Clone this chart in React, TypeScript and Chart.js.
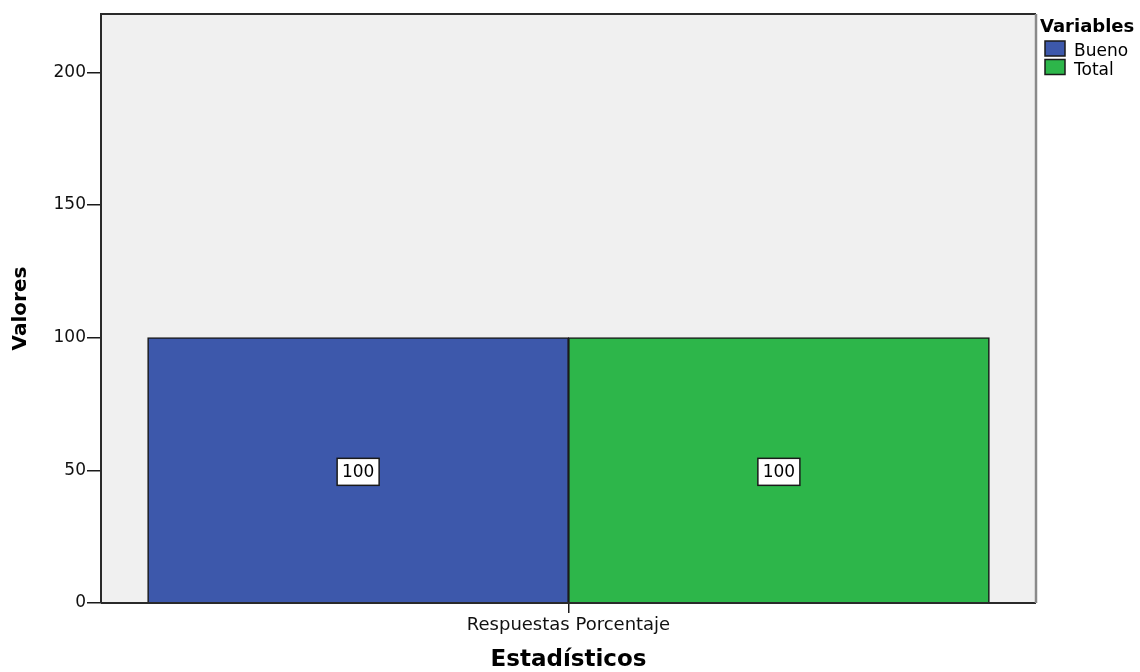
import React, { useEffect, useRef } from "react";
import { Chart, registerables } from "chart.js";

Chart.register(...registerables);

const categories = ["Respuestas Porcentaje"];
const seriesNames = ["Bueno", "Total"];
const buenoValues = [100];
const totalValues = [100];
const yTickValues = [0, 50, 100, 150, 200];
const yMax = 222;
const seriesColors = ["#3D58AB", "#2DB64A"];
const legendTitle = "Variables";
const xTitle = "Estadísticos";
const yTitle = "Valores";

const FONT = "'DejaVu Sans', 'Liberation Sans', sans-serif";

const framePlugin = {
  id: "frameAndLegend",
  beforeDraw(chart: any) {
    const { ctx, chartArea: a } = chart;
    ctx.save();
    ctx.fillStyle = "#F0F0F0";
    ctx.fillRect(a.left, a.top, a.right - a.left, a.bottom - a.top);
    ctx.restore();
  },
  afterDatasetsDraw(chart: any) {
    const { ctx } = chart;
    const yScale = chart.scales.y;
    ctx.save();
    chart.data.datasets.forEach((ds: any, di: number) => {
      const meta = chart.getDatasetMeta(di);
      meta.data.forEach((bar: any, i: number) => {
        const v = ds.data[i];
        const cx = bar.x;
        const cy = yScale.getPixelForValue(v / 2) + 1.5;
        const w = 42;
        const h = 27;
        ctx.fillStyle = "#FFFFFF";
        ctx.fillRect(cx - w / 2, cy - h / 2, w, h);
        ctx.strokeStyle = "#1A1A1A";
        ctx.lineWidth = 1.5;
        ctx.strokeRect(cx - w / 2, cy - h / 2, w, h);
        ctx.fillStyle = "#000000";
        ctx.font = `17px ${FONT}`;
        ctx.textAlign = "center";
        ctx.textBaseline = "middle";
        ctx.fillText(String(v), cx, cy + 1);
      });
    });
    ctx.restore();
  },
  afterDraw(chart: any) {
    const { ctx, chartArea: a } = chart;
    ctx.save();
    // frame
    ctx.lineWidth = 2;
    ctx.strokeStyle = "#2A2A2A";
    ctx.beginPath();
    ctx.moveTo(a.left, a.bottom);
    ctx.lineTo(a.left, a.top);
    ctx.lineTo(a.right, a.top);
    ctx.moveTo(a.left, a.bottom);
    ctx.lineTo(a.right, a.bottom);
    ctx.stroke();
    ctx.strokeStyle = "#8A8A8A";
    ctx.lineWidth = 2.5;
    ctx.beginPath();
    ctx.moveTo(a.right, a.top);
    ctx.lineTo(a.right, a.bottom);
    ctx.stroke();

    // legend
    const lx = a.right + 4;
    ctx.fillStyle = "#000000";
    ctx.font = `bold 18px ${FONT}`;
    ctx.textAlign = "left";
    ctx.textBaseline = "alphabetic";
    ctx.fillText(legendTitle, lx, 32);
    chart.data.datasets.forEach((ds: any, i: number) => {
      const top = 41 + i * 18.5;
      ctx.fillStyle = ds.backgroundColor;
      ctx.fillRect(lx + 5, top, 20, 15);
      ctx.strokeStyle = "#1A1A1A";
      ctx.lineWidth = 1.5;
      ctx.strokeRect(lx + 5, top, 20, 15);
      ctx.fillStyle = "#000000";
      ctx.font = `17px ${FONT}`;
      ctx.fillText(ds.label, lx + 34, top + 15);
    });
    ctx.restore();
  },
};

export default function App() {
  const canvasRef = useRef<HTMLCanvasElement | null>(null);

  useEffect(() => {
    if (!canvasRef.current) return;
    const chart = new Chart(canvasRef.current, {
      type: "bar",
      data: {
        labels: categories,
        datasets: [
          {
            label: seriesNames[0],
            data: buenoValues,
            backgroundColor: seriesColors[0],
            borderColor: "#1A1A1A",
            borderWidth: 1.6,
            inflateAmount: 0.5,
          },
          {
            label: seriesNames[1],
            data: totalValues,
            backgroundColor: seriesColors[1],
            borderColor: "#1A1A1A",
            borderWidth: 1.6,
            inflateAmount: 0.5,
          },
        ],
      },
      options: {
        responsive: false,
        animation: false,
        events: [],
        layout: { padding: { left: 0, right: 104, top: 14, bottom: 0 } },
        datasets: {
          bar: { categoryPercentage: 0.9, barPercentage: 1.0 },
        },
        plugins: {
          legend: { display: false },
          tooltip: { enabled: false },
          title: { display: false },
        },
        scales: {
          x: {
            grid: {
              offset: false,
              drawOnChartArea: false,
              drawTicks: true,
              tickLength: 10,
              color: "#1A1A1A",
              lineWidth: 1.5,
            },
            border: { display: false },
            ticks: {
              color: "#111111",
              font: { family: FONT, size: 18 },
              padding: 2,
            },
            title: {
              display: true,
              text: xTitle,
              color: "#000000",
              font: { family: FONT, size: 23, weight: "bold", lineHeight: 1 },
              padding: { top: 0, bottom: 0 },
            },
            afterFit(scale: any) {
              scale.height = 69;
            },
          },
          y: {
            min: 0,
            max: yMax,
            grid: {
              drawOnChartArea: false,
              drawTicks: true,
              tickLength: 14,
              color: "#1A1A1A",
              lineWidth: 1.5,
            },
            border: { display: false },
            ticks: {
              color: "#111111",
              font: { family: FONT, size: 17 },
              padding: 1,
            },
            afterBuildTicks(scale: any) {
              scale.ticks = yTickValues.map((v) => ({ value: v }));
            },
            title: {
              display: true,
              text: yTitle,
              color: "#000000",
              font: { family: FONT, size: 20, weight: "bold", lineHeight: 1 },
              padding: { top: 11, bottom: 0 },
            },
            afterFit(scale: any) {
              scale.width = 101;
            },
          },
        },
      },
      plugins: [framePlugin],
    } as any);
    return () => chart.destroy();
  }, []);

  return (
    <div style={{ position: "fixed", left: 0, top: 0, width: 1140, height: 672, background: "#FFFFFF" }}>
      <canvas ref={canvasRef} width={1140} height={672} style={{ display: "block" }} />
    </div>
  );
}
